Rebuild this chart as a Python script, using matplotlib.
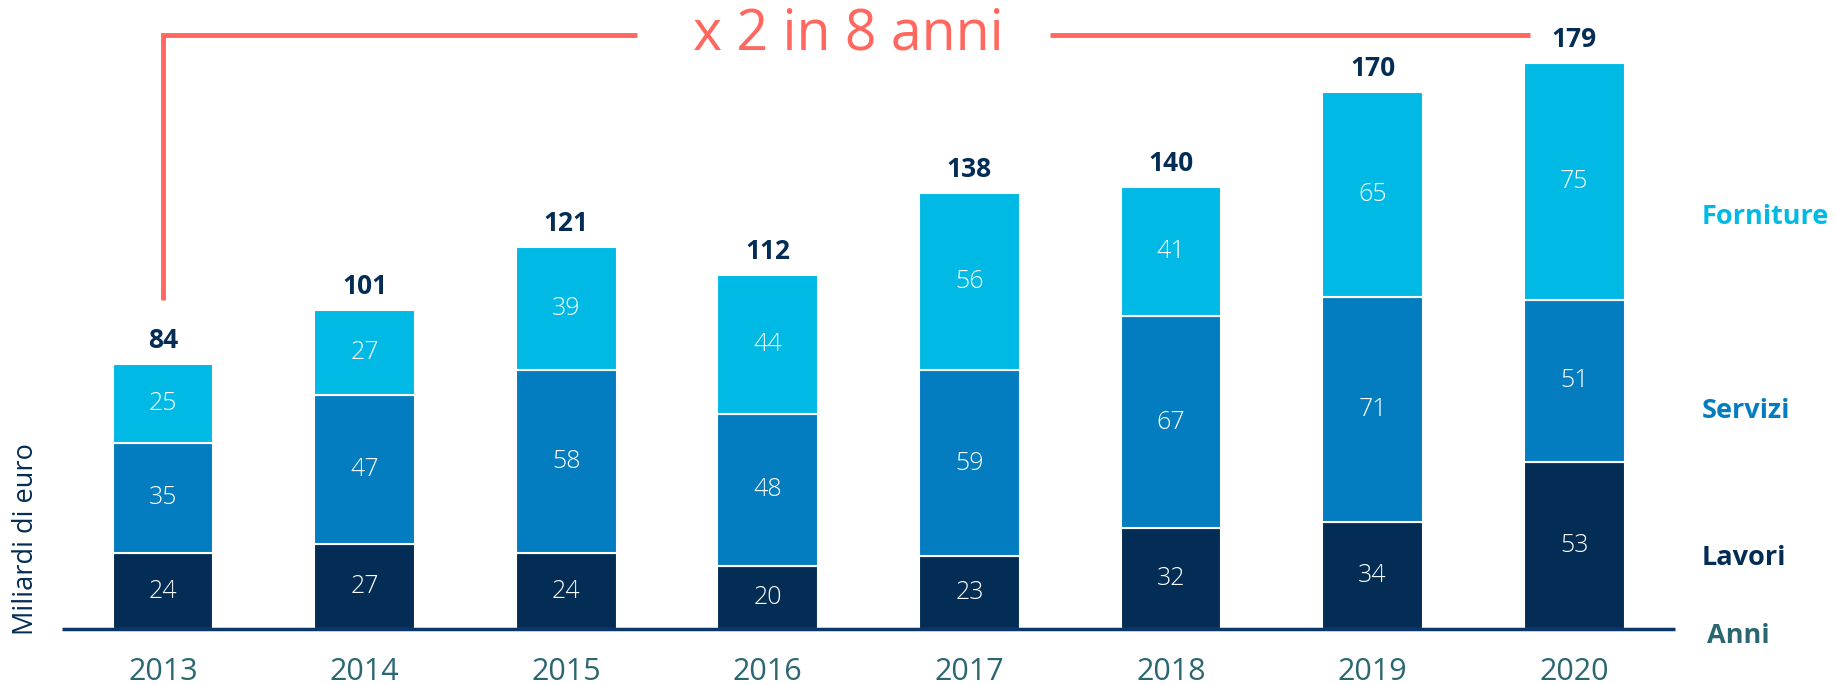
#!/usr/bin/python

import matplotlib.pyplot as plt

years = ['2013', '2014', '2015', '2016', '2017', '2018', '2019', '2020']
lavori = [24, 27, 24, 20, 23, 32, 34, 53]
servizi = [35, 47, 58, 48, 59, 67, 71, 51]
forniture = [25, 27, 39, 44, 56, 41, 65, 75]
totals = [84, 101, 121, 112, 138, 140, 170, 179]

NAVY = '#032d55'
BLUE = '#037dc0'
CYAN = '#00bae5'
RED = '#ff675f'
TEAL = '#2a6770'

plt.rcParams['font.family'] = ['Open Sans', 'DejaVu Sans']

fig = plt.figure(figsize=(18.37, 6.85), dpi=100)
ax = fig.add_axes([0, 0, 1, 1])
ax.set_xlim(-0.8085, 8.303)
ax.set_ylim(-17.7, 199.0)
ax.axis('off')

x = list(range(len(years)))
width = 0.5

bottoms = [0] * len(x)
for values, color in [(lavori, NAVY), (servizi, BLUE), (forniture, CYAN)]:
    ax.bar(x, values, width, bottom=bottoms, color=color,
           edgecolor='white', linewidth=1.5, zorder=2)
    for i, v in enumerate(values):
        ax.text(x[i], bottoms[i] + v / 2.0, str(v), ha='center', va='center',
                color='white', fontsize=18, fontweight='light', zorder=3)
    bottoms = [b + v for b, v in zip(bottoms, values)]

for i, t in enumerate(totals):
    ax.text(x[i], t + 5, str(t), ha='center', va='baseline',
            color=NAVY, fontsize=19, fontweight='bold')

for i, y in enumerate(years):
    ax.text(x[i], -13.6, y, ha='center', va='center', color=TEAL,
            fontsize=22)

# baseline
ax.hlines(0, -0.5, 7.5, color='#0a3768', linewidth=2.5, zorder=4)

# annotation bracket
top = 188
ax.plot([0, 0, 2.35], [totals[0] + 20, top, top], color=RED,
        linewidth=3.5, solid_joinstyle='miter', solid_capstyle='butt')
ax.plot([4.40, 6.78], [top, top], color=RED, linewidth=3.5,
        solid_capstyle='butt')
ax.text(3.40, top, 'x 2 in 8 anni', ha='center', va='center', color=RED,
        fontsize=40)

# series labels on the right
ax.text(7.63, 130.4, 'Forniture', ha='left', va='center', color=CYAN,
        fontsize=19.5, fontweight='bold')
ax.text(7.63, 69, 'Servizi', ha='left', va='center', color=BLUE,
        fontsize=19.5, fontweight='bold')
ax.text(7.63, 22.5, 'Lavori', ha='left', va='center', color=NAVY,
        fontsize=19.5, fontweight='bold')
ax.text(7.66, -2.2, 'Anni', ha='left', va='center', color=TEAL,
        fontsize=19.5, fontweight='bold')

ax.text(-0.68, 28.5, 'Miliardi di euro', ha='center', va='center',
        rotation=90, color=NAVY, fontsize=19.5)

fig.savefig('out.png', dpi=100)
